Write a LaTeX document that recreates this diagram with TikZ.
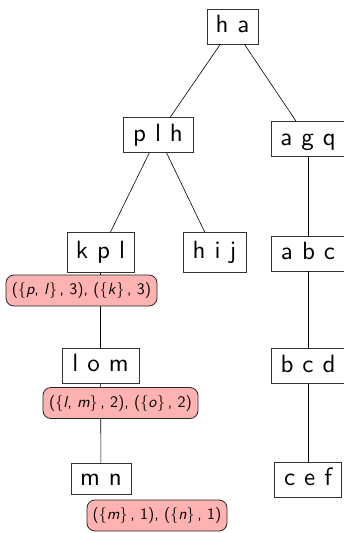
\documentclass[tikz,border=0pt]{standalone}
\usepackage{fontspec}
\setsansfont{lmsans10-regular.otf}[ItalicFont=lmsans10-oblique.otf]
\newcommand{\lsp}{\hspace{.36em}}
\begin{document}
\begin{tikzpicture}[x=1pt,y=-1pt,
  box/.style={draw=black!80,line width=0.8pt,font=\sffamily\fontsize{25}{29}\selectfont,
    inner xsep=2pt,inner ysep=0pt,minimum height=35pt,text height=17pt,text depth=5pt},
  lbl/.style={draw=black!85,line width=0.8pt,fill=red!30,rounded corners=8pt,
    font=\sffamily\fontsize{16}{19}\selectfont,minimum height=31pt,inner xsep=3pt,inner ysep=0pt},
  edge/.style={line width=0.6pt,draw=black}]
\useasboundingbox (0,0) rectangle (344,533);
\node[box,minimum width=51pt] (ha)  at (232.5,26.5) {h\lsp a};
\node[box,minimum width=70pt] (plh) at (158,135) {p\lsp l\lsp h};
\node[box,minimum width=74pt] (agq) at (308,139) {a\lsp g\lsp q};
\node[box,minimum width=67pt,minimum height=40pt] (kpl) at (100.5,252.5) {k\lsp p\lsp l};
\node[box,minimum width=63pt,minimum height=40pt] (hij) at (214.5,252.5) {h\lsp i\lsp j};
\node[box,minimum width=74pt] (abc) at (308,253.5) {a\lsp b\lsp c};
\node[box,minimum width=77pt] (lom) at (100.5,365.5) {l\lsp o\lsp m};
\node[box,minimum width=74pt] (bcd) at (308,366) {b\lsp c\lsp d};
\node[box,minimum width=60pt,minimum height=31pt] (mn)  at (101,479) {m\lsp n};
\node[box,minimum width=67pt] (cef) at (308,479.5) {c\lsp e\lsp f};
\draw[edge] (ha) -- (plh);
\draw[edge] (ha) -- (agq);
\draw[edge] (plh) -- (kpl);
\draw[edge] (plh) -- (hij);
\draw[edge] (agq) -- (abc);
\draw[edge] (abc) -- (bcd);
\draw[edge] (bcd) -- (cef);
\draw[edge] (kpl) -- (lom);
\draw[edge] (lom) -- (mn);
\node[lbl,minimum width=151pt] (l1) at (81.5,290.5) {(\{\textit{p}, \textit{l}\}\,, 3), (\{\textit{k}\}\,, 3)};
\node[lbl,minimum width=155pt] (l2) at (120.5,403) {(\{\textit{l}, \textit{m}\}\,, 2), (\{\textit{o}\}\,, 2)};
\node[lbl,minimum width=140pt] (l3) at (157,515.5) {(\{\textit{m}\}\,, 1), (\{\textit{n}\}\,, 1)};
\end{tikzpicture}
\end{document}
